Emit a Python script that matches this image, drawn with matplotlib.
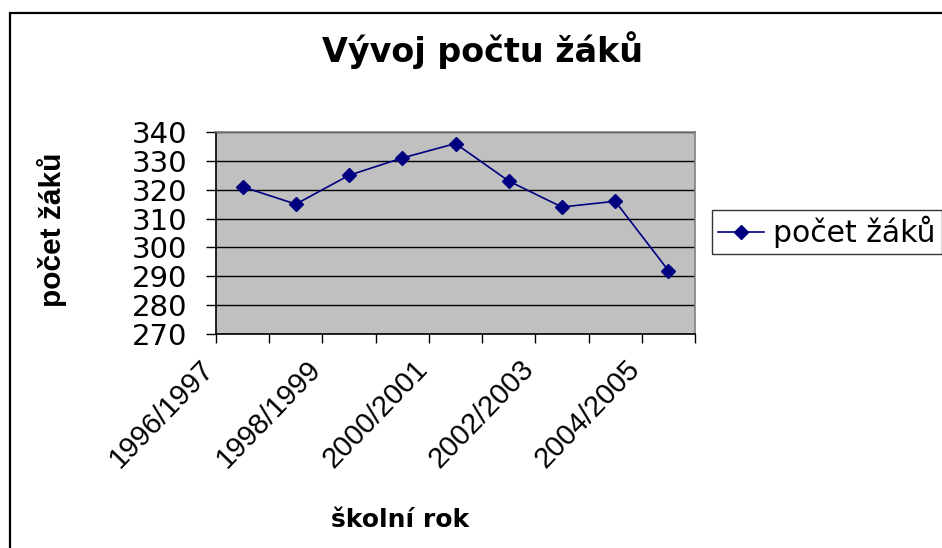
import matplotlib
matplotlib.use("Agg")
import matplotlib.pyplot as plt
from matplotlib.patches import Rectangle
from matplotlib import transforms
import numpy as np

categories = ["1996/1997", "1997/1998", "1998/1999", "1999/2000", "2000/2001",
              "2001/2002", "2002/2003", "2003/2004", "2004/2005"]
values = [321, 315, 325, 331, 336, 323, 314, 316, 292]
yticks = [270, 280, 290, 300, 310, 320, 330, 340]
title = "Vývoj počtu žáků"
xlabel = "školní rok"
ylabel = "počet žáků"
series_name = "počet žáků"

W, H = 942, 548
fig = plt.figure(figsize=(W / 100, H / 100), dpi=100)
fig.patch.set_facecolor("white")

# outer chart border (left and top visible)
fig.add_artist(Rectangle((10 / W, -0.2), 2.0, 1.2 - 13 / H, transform=fig.transFigure,
                         fill=False, edgecolor="black", linewidth=1.6))

ax = fig.add_axes([216 / W, 1 - 334 / H, (695 - 216) / W, (334 - 132) / H])
ax.set_facecolor("#C0C0C0")

x = np.arange(len(categories))
ax.plot(x, values, color="#000080", linewidth=1.2, marker="D", markersize=7,
        markerfacecolor="#000080", markeredgecolor="#000080", zorder=3,
        label=series_name)

ax.set_xlim(-0.5, len(categories) - 0.5)
ax.set_ylim(yticks[0], yticks[-1])
ax.set_yticks(yticks)
ax.yaxis.grid(True, color="black", linewidth=1.0)
ax.set_axisbelow(True)

# ticks at category boundaries; labels on every other boundary
bounds = np.arange(len(categories) + 1) - 0.5
ax.set_xticks(bounds[0::2][:len(categories[0::2])])
ax.set_xticklabels(categories[0::2])
ax.set_xticks(bounds, minor=True)
ax.tick_params(axis="x", which="both", direction="out", length=6.5, width=1, color="black")
ax.tick_params(axis="x", which="major", pad=14, labelsize=21)
ax.tick_params(axis="y", direction="out", length=7.5, width=1, pad=13, labelsize=21)
shift = transforms.ScaledTranslation(-6 / 72, 0, fig.dpi_scale_trans)
for lab in ax.get_xticklabels():
    lab.set_rotation(46)
    lab.set_ha("right")
    lab.set_va("center_baseline")
    lab.set_rotation_mode("anchor")
    lab.set_family("Liberation Sans")
    lab.set_transform(lab.get_transform() + shift)
for lab in ax.get_yticklabels():
    lab.set_family("DejaVu Sans")

ax.spines["left"].set_color("black")
ax.spines["bottom"].set_color("black")
ax.spines["top"].set_color("#808080")
ax.spines["right"].set_color("#808080")
for s in ax.spines.values():
    s.set_linewidth(1.2)

fig.text(482 / W, 1 - 62 / H, title, ha="center", va="baseline",
         fontsize=24, fontweight="bold", family="DejaVu Sans")
fig.text(400 / W, 1 - 527 / H, xlabel, ha="center", va="baseline",
         fontsize=18, fontweight="bold", family="DejaVu Sans")
fig.text(52 / W, 1 - 230 / H, ylabel, ha="center", va="center", rotation=90,
         fontsize=21.5, fontweight="bold", family="Liberation Sans")

leg = fig.legend(loc="center left", bbox_to_anchor=(712 / W, 1 - 232 / H),
                 bbox_transform=fig.transFigure, frameon=True, fancybox=False,
                 prop={"family": "DejaVu Sans", "size": 21.5}, handlelength=1.55,
                 handletextpad=0.3, borderpad=0.2, borderaxespad=0)
leg.get_frame().set_edgecolor("black")
leg.get_frame().set_linewidth(1.0)

fig.savefig("out.png", dpi=100)
